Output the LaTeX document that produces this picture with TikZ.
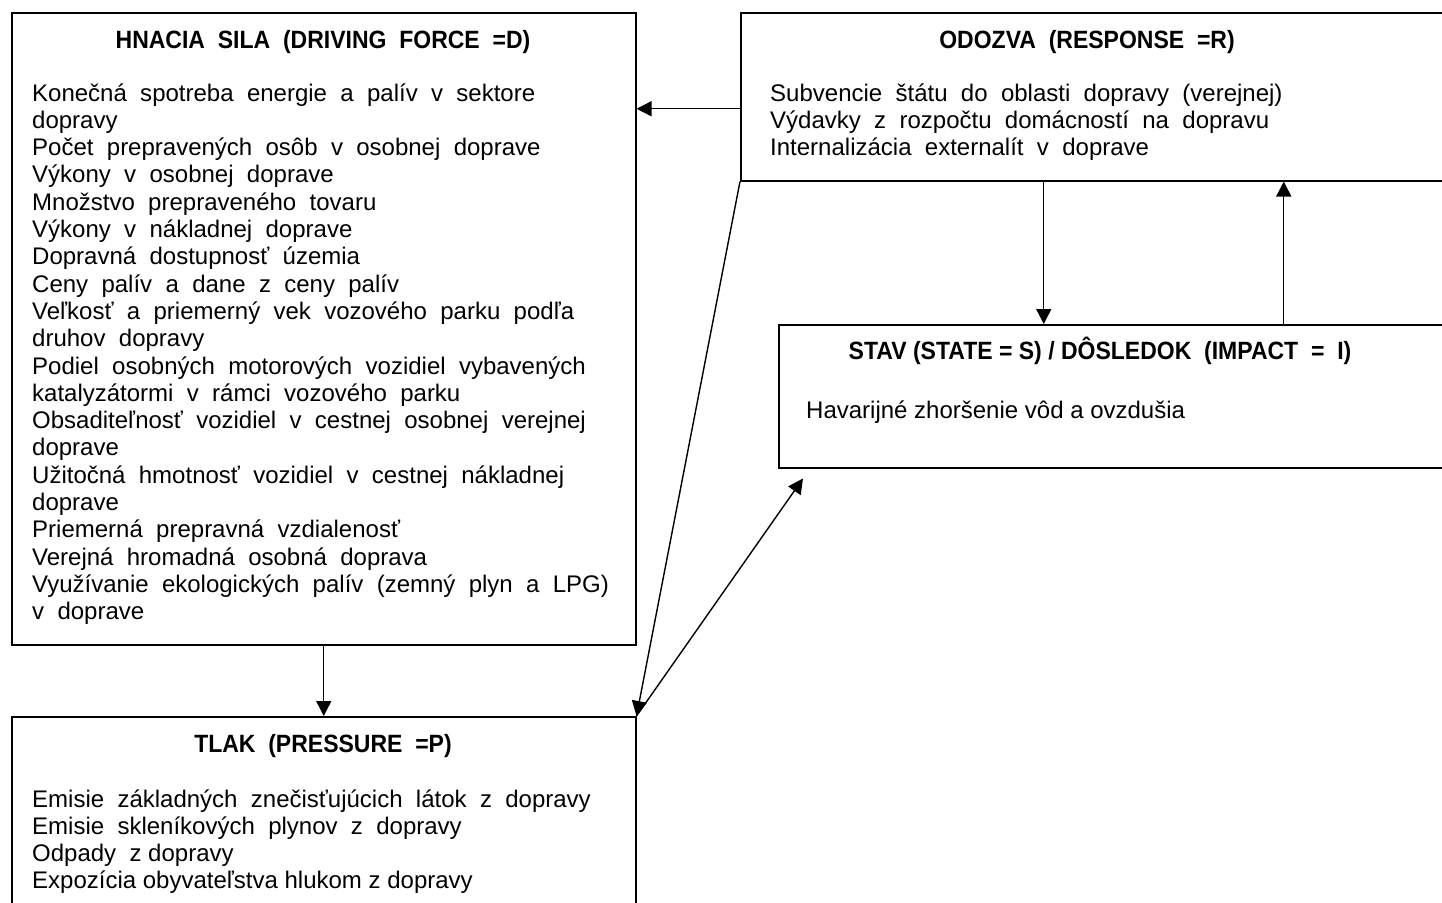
\documentclass[tikz,border=0pt]{standalone}
\usepackage{fontspec}
\setmainfont{Liberation Sans}
\newfontfamily\ttlfont[FakeStretch=0.92]{Liberation Sans}
\usetikzlibrary{arrows.meta}
\newcommand{\bodyfont}{\fontsize{24pt}{27.3pt}\selectfont\spaceskip=0.556em\relax}
\newcommand{\onesp}{\spaceskip=0pt\relax}
\tikzset{
  box/.style={draw, line width=1.5pt, inner sep=0pt, anchor=north west},
  ttl/.style={inner sep=0pt, anchor=base, font=\ttlfont\fontsize{25pt}{27.3pt}\selectfont\bfseries},
  txt/.style={inner sep=0pt, anchor=base west},
  arr/.style={line width=1.4pt, -{Triangle[length=15pt,width=15pt]}}
}
\begin{document}
\begin{tikzpicture}[x=1pt,y=-1pt]
\useasboundingbox (0,0) rectangle (1442,902);
\fill[white] (0,0) rectangle (1442,902);
% boxes
\node[box, minimum width=624pt, minimum height=632pt] (D) at (11,12) {};
\node[box, minimum width=710pt, minimum height=168pt] (R) at (740,12) {};
\node[box, minimum width=672pt, minimum height=143pt] (S) at (778,324) {};
\node[box, minimum width=624pt, minimum height=200pt] (P) at (11,716) {};
% titles
\node[ttl] (Dh) at (323,48.5) {HNACIA\ \ SILA\ \ (DRIVING\ \ FORCE\ \ =D)};
\node[ttl] (Rh) at (1087,48.5) {ODOZVA\ \ (RESPONSE\ \ =R)};
\node[ttl] (Sh) at (1100,359.5) {STAV (STATE = S) / DÔSLEDOK\ \ (IMPACT\ \ =\ \ I)};
\node[ttl] (Ph) at (323,752.5) {TLAK\ \ (PRESSURE\ \ =P)};
% bodies
\node[txt] (Db) at (32,101) {\parbox[t]{620pt}{\raggedright\bodyfont
Konečná spotreba energie a palív v sektore\\
dopravy\\
Počet prepravených osôb v osobnej doprave\\
Výkony v osobnej doprave\\
Množstvo prepraveného tovaru\\
Výkony v nákladnej doprave\\
Dopravná dostupnosť územia\\
Ceny palív a dane z ceny palív\\
Veľkosť a priemerný vek vozového parku podľa\\
druhov dopravy\\
Podiel osobných motorových vozidiel vybavených\\
katalyzátormi v rámci vozového parku\\
Obsaditeľnosť vozidiel v cestnej osobnej verejnej\\
doprave\\
Užitočná hmotnosť vozidiel v cestnej nákladnej\\
doprave\\
Priemerná prepravná vzdialenosť\\
Verejná hromadná osobná doprava\\
Využívanie ekologických palív (zemný plyn a LPG)\\
v doprave}};
\node[txt] (Rb) at (770,101) {\parbox[t]{660pt}{\raggedright\bodyfont
Subvencie štátu do oblasti dopravy (verejnej)\\
Výdavky z rozpočtu domácností na dopravu\\
Internalizácia externalít v doprave}};
\node[txt] (Sb) at (806,418) {\parbox[t]{620pt}{\raggedright\bodyfont\onesp
Havarijné zhoršenie vôd a ovzdušia}};
\node[txt] (Pb) at (32,807) {\parbox[t]{620pt}{\raggedright\bodyfont
Emisie základných znečisťujúcich látok z dopravy\\
Emisie skleníkových plynov z dopravy\\
Odpady {\onesp z dopravy}\\
{\onesp Expozícia obyvateľstva hlukom z dopravy}}};
% connectors
\draw[arr] ([yshift=-12pt]R.west) -- ([yshift=-12pt]R.west -| D.east);
\draw[arr] ([xshift=-52pt]R.south) -- ([xshift=-52pt]R.south |- S.north);
\draw[arr] ([xshift=188pt]R.south |- S.north) -- ([xshift=188pt]R.south);
\draw[arr] (D.south) -- (D.south |- P.north);
\draw[arr] (R.south west) -- (P.north east);
\draw[arr] (P.north east) -- ([xshift=25pt,yshift=-10pt]S.south west);
\end{tikzpicture}
\end{document}
